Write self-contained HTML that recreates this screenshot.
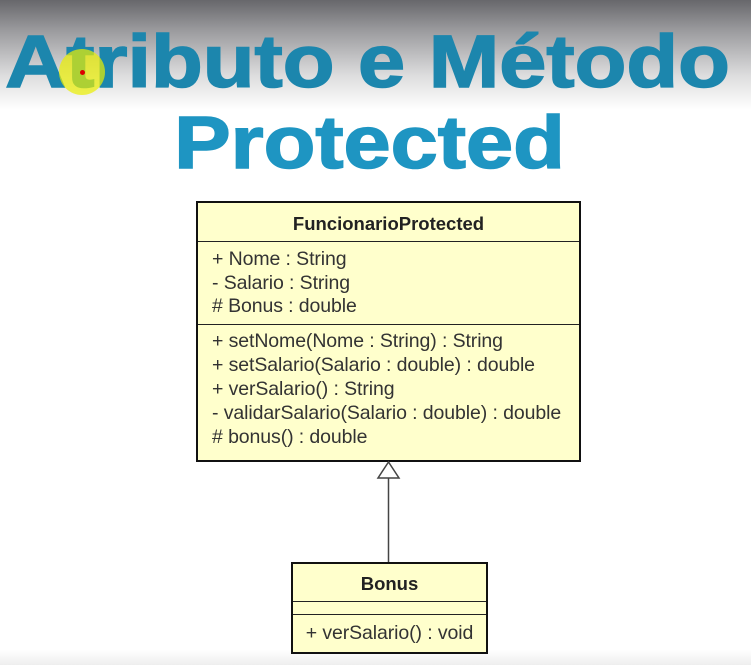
<!DOCTYPE html>
<html><head><meta charset="utf-8"><style>
html,body{margin:0;padding:0}
body{width:751px;height:665px;position:relative;overflow:hidden;background:linear-gradient(#67676b 0px,#9a9a9d 30px,#dcdcdd 75px,#fff 110px,#fff 650px,#eeeeee 665px);font-family:"Liberation Sans",Arial,sans-serif}
.t{position:absolute;left:0;width:751px;text-align:center;font-weight:bold;color:#1e95c2;white-space:nowrap;transform:scaleX(1.145);transform-origin:center;-webkit-text-stroke:1.5px currentColor}
.box{position:absolute;background:#ffffcc;border:2px solid #111;box-sizing:border-box;color:#333;font-size:19.5px;letter-spacing:-0.1px}
.hd{font-weight:bold;text-align:center;color:#222;border-bottom:1.5px solid #222;font-size:18.5px;letter-spacing:0}
.sec{padding:0 0 0 14px;line-height:24px}
</style></head><body>
<div class="t" style="top:19px;font-size:74px;left:-8px;color:#1c86ad">Atributo e Método</div>
<div class="t" style="top:100px;font-size:74px;left:-6px">Protected</div>
<div style="position:absolute;left:59px;top:49px;width:46px;height:46px;border-radius:50%;background:rgba(235,240,0,0.7)"></div>
<div style="position:absolute;left:80px;top:70px;width:5px;height:5px;border-radius:50%;background:#d00"></div>

<div class="box" style="left:196px;top:201px;width:385px;height:261px">
 <div class="hd" style="height:38px;line-height:42px">FuncionarioProtected</div>
 <div class="sec" style="height:83px;padding-top:6px;box-sizing:border-box;border-bottom:1.5px solid #222;line-height:23.5px">+ Nome : String<br>- Salario : String<br># Bonus : double</div>
 <div class="sec" style="padding-top:4px;line-height:24px">+ setNome(Nome : String) : String<br>+ setSalario(Salario : double) : double<br>+ verSalario() : String<br>- validarSalario(Salario : double) : double<br># bonus() : double</div>
</div>
<svg style="position:absolute;left:0;top:0" width="751" height="665">
<line x1="388.5" y1="477" x2="388.5" y2="562" stroke="#444" stroke-width="1.5"/>
<polygon points="388.5,462 378,478 399,478" fill="#fff" stroke="#444" stroke-width="1.5"/>
</svg>
<div class="box" style="left:291px;top:562px;width:197px;height:92px">
 <div class="hd" style="height:37px;line-height:40px">Bonus</div>
 <div style="height:12px;border-bottom:1.5px solid #222"></div>
 <div style="text-align:center;line-height:36px">+ verSalario() : void</div>
</div>
</body></html>
